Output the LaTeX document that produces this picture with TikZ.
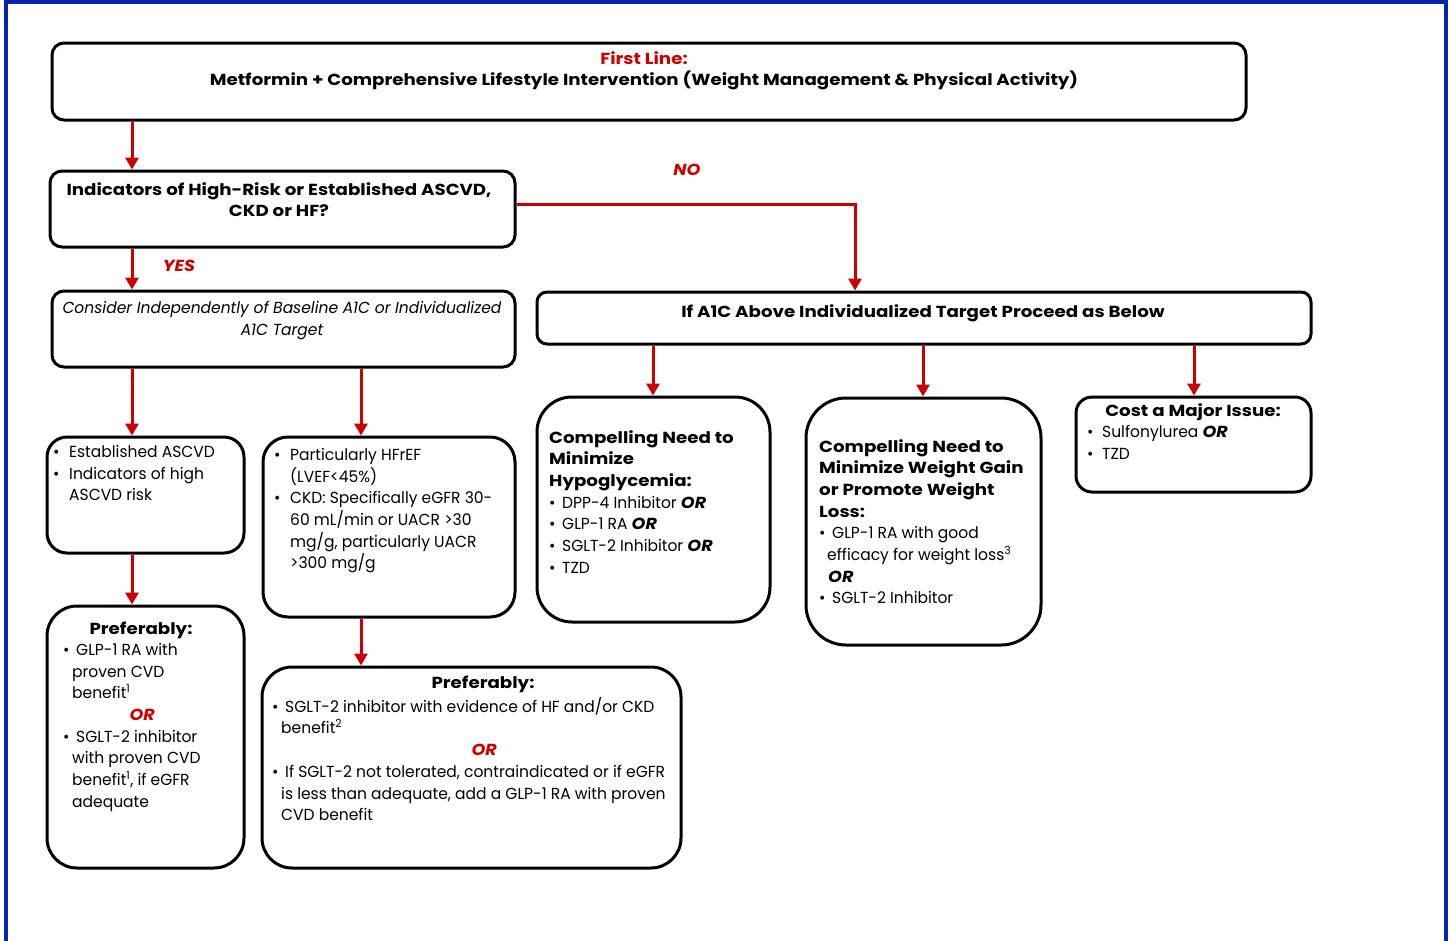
\documentclass[tikz,border=0pt]{standalone}
\usepackage{fontspec}
\setmainfont{Poppins}[UprightFeatures={FakeStretch=0.97}, BoldFeatures={FakeStretch=1.14},
  ItalicFeatures={FakeStretch=0.97}, BoldItalicFeatures={FakeStretch=1.1}]
\usetikzlibrary{arrows.meta,fit}

\definecolor{frameblue}{RGB}{0,38,176}
\definecolor{adared}{RGB}{204,0,0}

\newcommand\bul[1][13pt]{\makebox[#1][l]{\textbullet}}
\newcommand\redor{\textcolor{adared}{\bfseries\itshape OR}}
\newcommand\blkor{{\bfseries\itshape OR}}

\tikzset{
  box/.style={draw, line width=3pt, rounded corners=#1, inner sep=0pt},
  box/.default=12pt,
  arr/.style={draw=adared, line width=3pt, -{Triangle[width=13pt,length=12pt]}},
  txt/.style={inner sep=0pt, font=\fontsize{16}{21.7}\selectfont, align=left, anchor=north west},
  head/.style={inner sep=0pt, font=\fontsize{16}{21.7}\selectfont\bfseries, align=center, anchor=north},
  answer/.style={inner sep=0pt, text=adared, font=\fontsize{16}{20}\selectfont\bfseries\itshape},
}

\begin{document}
\begin{tikzpicture}[x=1pt,y=-1pt]
\useasboundingbox (0,0) rectangle (1451,940);
\draw[frameblue, line width=4pt] (6,942) -- (6,2) -- (1445.5,2) -- (1445.5,942);

% boxes
\node[box, fit={(52,43) (1246,120)}] (first) {};
\node[box, fit={(50,171) (515,247)}] (risk) {};
\node[box, fit={(52,291) (515,367)}] (consider) {};
\node[box=10pt, fit={(537,292) (1311,344)}] (target) {};
\node[box=20pt, fit={(47,437) (244,553)}] (ascvd) {};
\node[box=25pt, fit={(263,437) (515,617)}] (hfckd) {};
\node[box=30pt, fit={(47,606) (244,868)}] (prefA) {};
\node[box=30pt, fit={(262,667) (681,868)}] (prefB) {};
\node[box=35pt, fit={(537,397) (770,622)}] (hypo) {};
\node[box=40pt, fit={(806,398) (1041,645)}] (weight) {};
\node[box=16pt, fit={(1076,397) (1311,492)}] (cost) {};

% texts
\node[head] (firstT) at (644,51) {\textcolor{adared}{First Line:}\\
  Metformin + Comprehensive Lifestyle Intervention (Weight Management \& Physical Activity)};
\node[head] (riskT) at (279,182) {Indicators of High-Risk or Established ASCVD,\\ CKD or HF?};
\node[head, font=\fontsize{16}{21.7}\selectfont\itshape] (considerT) at (282,301)
  {Consider Independently of Baseline A1C or Individualized\\ A1C Target};
\node[head] (targetT) at (923,304) {If A1C Above Individualized Target Proceed as Below};

\node[txt] (ascvdT) at (53,445) {\bul[16pt]Established ASCVD\\ \bul[16pt]Indicators of high\\
  \hphantom{\bul[16pt]}ASCVD risk};
\node[txt] (hfckdT) at (274,448) {\bul[16pt]Particularly HFrEF\\ \hphantom{\bul[16pt]}(LVEF<45\%)\\
  \bul[16pt]CKD: Specifically eGFR 30-\\ \hphantom{\bul[16pt]}60 mL/min or UACR >30\\
  \hphantom{\bul[16pt]}mg/g, particularly UACR\\ \hphantom{\bul[16pt]}>300 mg/g};

\node[head] (prefAH) at (141,622) {Preferably:};
\node[txt] (prefAT) at (63,643) {\bul GLP-1 RA with\\ \hspace{9pt}proven CVD\\
  \hspace{9pt}benefit\textsuperscript{1}\\ \makebox[158pt][c]{\redor}\\
  \bul SGLT-2 inhibitor\\ \hspace{9pt}with proven CVD\\
  \hspace{9pt}benefit\textsuperscript{1}, if eGFR\\ \hspace{9pt}adequate};

\node[head] (prefBH) at (483,676) {Preferably:};
\node[txt] (prefBT) at (272,697) {\bul SGLT-2 inhibitor with evidence of HF and/or CKD\\
  \hspace{9pt}benefit\textsuperscript{2}\\ \makebox[424pt][c]{\redor}\\
  \bul If SGLT-2 not tolerated, contraindicated or if eGFR\\
  \hspace{9pt}is less than adequate, add a GLP-1 RA with proven\\ \hspace{9pt}CVD benefit};

\node[txt] (hypoT) at (549,430) {\textbf{Compelling Need to}\\ \textbf{Minimize}\\
  \textbf{Hypoglycemia:}\\ \bul DPP-4 Inhibitor \blkor\\ \bul GLP-1 RA \blkor\\
  \bul SGLT-2 Inhibitor \blkor\\ \bul TZD};

\node[txt] (weightT) at (819,439) {\textbf{Compelling Need to}\\ \textbf{Minimize Weight Gain}\\
  \textbf{or Promote Weight}\\ \textbf{Loss:}\\ \bul GLP-1 RA with good\\
  \hspace{8pt}efficacy for weight loss\textsuperscript{3}\\ \hspace{9pt}\blkor\\
  \bul SGLT-2 Inhibitor};

\node[head] (costH) at (1193,403) {Cost a Major Issue:};
\node[txt] (costT) at (1087,425) {\bul[15pt]Sulfonylurea \blkor\\ \bul[15pt]TZD};

\node[answer] (yes) at (179,266) {YES};
\node[answer] (no) at (687,170) {NO};

% connectors
\coordinate (colA) at (132,0);
\coordinate (colB) at (361,0);
\coordinate (colC) at (653,0);
\coordinate (colD) at (923,0);
\coordinate (colE) at (1194,0);
\coordinate (turn) at (855,204);

\draw[arr] (first.south -| colA) -- (risk.north -| colA);
\draw[arr] (risk.south -| colA) -- (consider.north -| colA);
\draw[arr] (risk.east |- turn) -- (turn) -- (target.north -| turn);
\draw[arr] (consider.south -| colA) -- (ascvd.north -| colA);
\draw[arr] (consider.south -| colB) -- (hfckd.north -| colB);
\draw[arr] (ascvd.south -| colA) -- (prefA.north -| colA);
\draw[arr] (hfckd.south -| colB) -- (prefB.north -| colB);
\draw[arr] (target.south -| colC) -- (hypo.north -| colC);
\draw[arr] (target.south -| colD) -- (weight.north -| colD);
\draw[arr] (target.south -| colE) -- (cost.north -| colE);

\end{tikzpicture}
\end{document}
